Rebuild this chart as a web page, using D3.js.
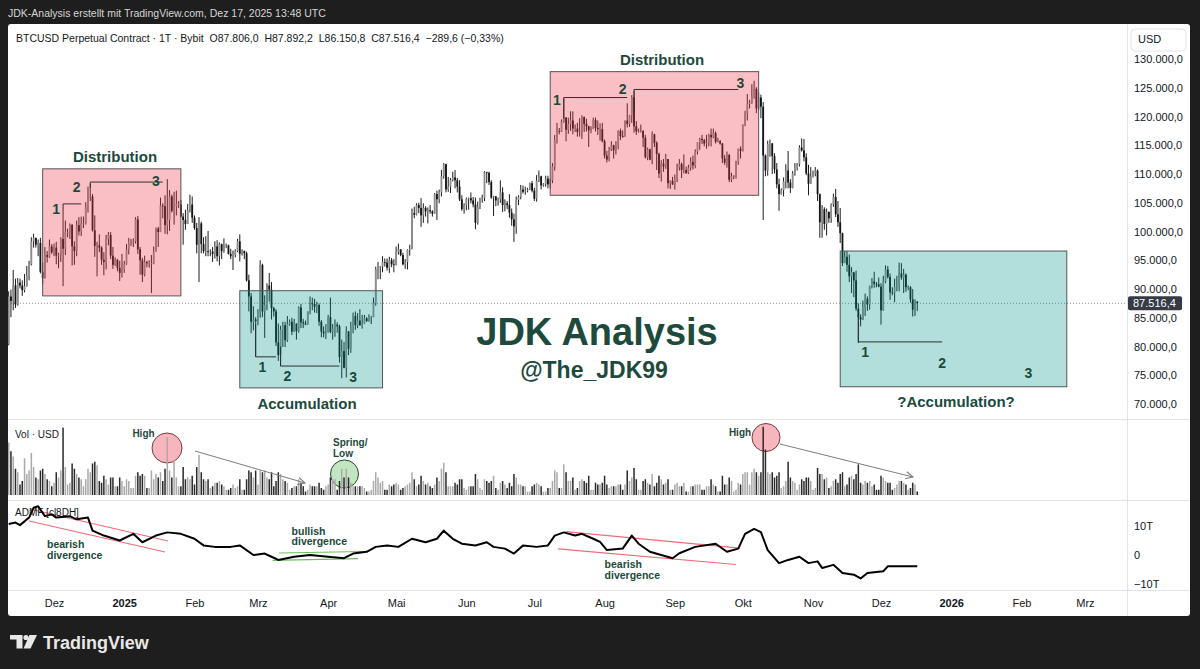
<!DOCTYPE html>
<html><head><meta charset="utf-8">
<script src="https://d3js.org/d3.v7.min.js"></script>
<style>
html,body{margin:0;padding:0;background:#1e1e1e;overflow:hidden}
svg{display:block;font-family:"Liberation Sans",Arial,sans-serif}
</style></head><body>
<svg id="chart" width="1200" height="669"></svg>
<script>
// ---------------- DATA ----------------
// Daily BTCUSD perpetual candles from 2024-11-11. Row = [high, low, close, volume]
// prices in thousand USD, volume in billion USD; open = previous close (24/7 market)
const startDate = [2024, 10, 11];
const firstOpen = 80.4;
const nov24 = [[89.6,80.2,88.7,3.0],[89.9,85.1,87.9,2.5],[93.3,86.3,90.6,2.2],[91.8,86.7,87.3,1.5],[91.9,87.1,91.1,1.3],[91.8,90.1,90.6,0.6],[91.5,88.8,89.8,0.8],[92.6,89.4,90.5,2.1],[94.0,90.4,92.3,1.2],[94.9,91.5,94.3,1.4],[99.0,94.1,98.3,2.4],[99.6,97.2,98.9,1.6],[98.9,97.2,97.7,1.0],[98.6,95.7,98.0,0.9],[98.9,92.7,93.0,1.4],[94.6,90.8,91.9,1.5],[97.3,91.8,95.9,1.2],[96.6,94.6,95.6,0.9],[98.6,95.4,97.4,0.8],[97.8,96.1,96.4,0.5]];
const dec24 = [[97.9,95.7,97.2,0.7],[98.2,94.3,95.8,1.3],[96.3,93.6,96.0,1.0],[99.0,94.7,98.7,1.4],[103.7,90.5,97.0,3.85],[101.9,95.9,99.9,1.6],[100.5,99.0,99.9,0.6],[101.4,98.7,101.2,0.7],[101.2,94.1,97.4,1.8],[98.3,94.2,96.6,1.5],[101.9,95.7,101.1,1.2],[102.5,99.3,100.0,1.0],[102.6,99.2,101.4,0.9],[102.6,100.6,101.4,0.5],[105.1,101.2,104.3,0.9],[107.8,103.3,106.1,1.5],[108.3,105.3,106.1,1.3],[106.5,100.0,100.2,1.8],[102.8,95.6,97.5,1.9],[98.2,92.2,97.6,1.7],[99.5,96.4,97.2,0.8],[97.4,94.2,95.1,0.7],[96.4,92.4,94.7,1.1],[99.4,93.4,98.7,0.9],[99.9,97.6,99.4,0.6],[99.9,95.2,95.8,1.0],[97.3,93.5,94.2,1.0],[95.5,94.0,95.1,0.5],[95.2,93.1,93.7,0.5],[94.9,91.4,92.8,1.0],[96.1,92.0,93.4,0.8]];
const jan25 = [[94.9,92.8,94.4,0.5],[97.8,94.2,96.9,0.9],[98.9,96.0,98.1,0.8],[98.7,97.5,98.2,0.4],[98.8,97.3,98.3,0.4],[102.5,97.9,102.1,1.1],[102.7,96.1,96.9,1.3],[97.3,92.5,95.0,1.1],[95.4,91.2,92.5,1.2],[95.8,92.2,94.7,1.1],[94.9,93.8,94.5,0.4],[95.0,93.7,94.5,0.4],[95.9,89.3,94.5,1.4],[97.4,94.3,96.5,0.9],[100.7,96.5,100.5,1.2],[100.8,97.3,99.9,1.0],[105.9,99.9,104.5,1.3],[104.9,102.3,104.4,0.8],[106.3,99.6,101.1,1.5],[109.1,99.5,102.0,3.3],[107.2,100.1,106.1,1.4],[106.4,103.3,103.6,1.0],[106.9,101.2,104.4,2.0],[107.1,102.8,104.7,1.0],[105.3,104.1,104.7,0.5],[105.5,102.5,102.6,0.5],[103.2,97.7,102.0,1.6],[103.8,100.3,101.3,0.9],[104.8,101.3,103.7,1.0],[106.4,103.3,104.7,0.9],[106.1,101.5,102.4,1.1]];
const feb25 = [[102.8,100.3,100.6,0.6],[101.5,96.2,97.7,1.6],[102.5,91.2,101.4,2.3],[101.7,96.2,97.8,1.3],[99.0,96.2,96.6,0.9],[99.2,95.7,96.6,0.8],[100.1,95.7,96.5,0.9],[96.9,95.7,96.5,0.4],[97.3,94.7,96.1,0.5],[98.3,95.3,97.4,0.7],[98.5,94.8,95.7,0.7],[98.1,94.1,97.8,0.8],[97.9,95.2,96.6,0.6],[98.8,96.3,97.5,0.5],[97.9,97.1,97.6,0.3],[97.7,96.0,96.1,0.3],[97.0,95.2,95.7,0.4],[96.7,93.3,95.9,0.6],[96.9,95.5,96.6,0.4],[98.7,96.4,98.3,0.5],[99.5,94.8,96.1,0.9],[96.9,95.8,96.6,0.3],[96.7,95.2,96.2,0.3],[96.5,91.3,91.5,0.9],[92.5,86.1,88.7,1.4],[89.3,82.3,84.3,1.3],[87.0,82.8,84.7,1.0],[85.1,78.2,84.4,1.4]];
const mar25 = [[86.5,83.7,86.0,0.6],[95.0,85.0,94.2,1.4],[94.4,85.1,86.1,1.3],[88.9,81.5,87.2,1.4],[91.0,86.3,90.6,1.0],[92.8,87.8,89.9,0.9],[91.2,84.7,86.7,1.3],[86.9,85.2,86.1,0.5],[86.5,80.1,80.7,0.8],[84.0,77.5,78.5,1.3],[83.6,76.6,82.9,1.2],[84.3,79.9,83.7,0.9],[84.3,79.9,81.1,0.8],[85.3,80.8,83.9,0.7],[84.7,83.6,84.3,0.3],[85.0,82.0,82.6,0.4],[84.8,82.5,84.0,0.5],[84.0,81.2,82.7,0.5],[87.0,82.4,86.8,0.9],[87.4,83.2,84.2,0.7],[84.8,83.2,84.0,0.5],[84.5,83.7,83.8,0.2],[86.1,83.8,86.1,0.3],[88.7,85.6,87.5,0.6],[88.5,86.3,87.4,0.5],[88.3,85.9,86.9,0.5],[87.8,85.8,87.2,0.5],[87.5,83.6,84.3,0.7],[84.6,81.6,82.6,0.4],[83.5,81.6,82.3,0.3],[83.9,81.3,82.5,0.5]];
const apr25 = [[85.5,82.4,85.1,0.6],[88.5,82.3,82.5,1.0],[83.9,81.2,83.1,0.9],[84.7,81.7,83.8,0.9],[84.2,82.4,83.5,0.3],[83.8,77.2,78.2,0.8],[81.2,74.5,79.2,1.5],[80.8,76.2,76.3,1.0],[83.5,74.6,82.6,1.5],[82.7,78.5,79.6,1.0],[84.3,78.9,83.4,0.7],[85.9,82.3,85.3,0.5],[86.1,82.9,83.7,0.5],[85.8,83.2,84.5,0.5],[86.5,83.6,83.7,0.5],[85.5,83.1,84.0,0.5],[85.5,83.9,84.9,0.4],[85.1,84.3,84.4,0.2],[85.6,84.3,85.1,0.2],[85.3,83.9,85.1,0.3],[88.5,85.1,87.5,0.8],[93.9,87.1,93.4,1.3],[94.7,91.7,93.7,1.0],[94.0,91.7,93.9,0.7],[95.7,92.9,94.7,0.8],[95.3,93.9,94.6,0.3],[95.3,93.2,93.7,0.3],[95.6,92.8,95.0,0.6],[95.4,93.8,94.3,0.5],[95.2,92.9,94.2,0.6]];
const may25 = [[97.4,94.1,96.5,0.7],[97.9,96.0,96.9,0.6],[96.9,95.7,95.9,0.3],[96.3,94.1,94.3,0.4],[95.2,93.5,94.7,0.5],[96.9,93.4,96.8,0.6],[97.7,95.8,97.0,0.7],[104.0,96.9,103.2,1.3],[104.3,102.3,102.9,0.9],[104.9,102.8,104.6,0.5],[105.0,103.2,104.1,0.6],[105.8,100.8,102.8,1.1],[104.9,101.5,104.1,0.8],[104.4,102.6,103.5,0.6],[104.2,101.4,103.7,0.7],[104.6,103.1,103.5,0.5],[103.7,102.6,103.1,0.4],[106.7,103.1,106.5,0.6],[107.1,102.0,105.6,1.0],[107.3,104.9,106.8,0.8],[110.7,106.1,109.6,1.5],[111.9,109.2,111.7,1.85],[111.8,106.8,107.3,1.3],[109.5,106.9,107.8,0.5],[109.3,106.7,109.0,0.5],[110.4,108.7,109.4,0.5],[110.7,107.5,108.9,0.7],[109.3,106.8,107.8,0.6],[108.9,105.3,105.6,0.9],[106.3,103.6,103.9,0.9],[104.9,103.1,104.6,0.4]];
const jun25 = [[105.9,103.7,105.7,0.3],[105.9,103.8,105.8,0.5],[106.8,104.9,105.4,0.5],[106.0,104.2,104.7,0.5],[105.9,100.4,101.5,1.2],[105.2,101.2,104.3,0.9],[105.9,103.9,105.6,0.4],[106.4,105.0,105.8,0.3],[110.5,105.3,110.3,0.9],[110.4,108.4,110.2,0.8],[110.4,108.1,108.6,0.7],[108.9,105.7,105.9,0.8],[106.2,102.7,106.1,1.1],[106.2,104.4,105.4,0.4],[105.9,104.5,105.6,0.3],[108.9,105.0,106.8,0.7],[107.7,103.4,104.6,0.8],[105.6,103.5,104.9,0.6],[105.3,103.9,104.6,0.4],[106.5,102.4,103.3,0.7],[104.0,101.0,102.1,0.5],[103.1,98.2,100.9,1.2],[106.1,99.6,105.5,1.0],[106.3,104.6,106.0,0.6],[108.1,105.6,107.3,0.6],[108.0,106.6,106.9,0.5],[107.8,106.4,107.1,0.5],[107.6,106.8,107.3,0.2],[108.5,107.2,108.4,0.2],[108.8,106.8,107.1,0.5]];
const jul25 = [[107.6,105.3,105.7,0.6],[109.8,105.2,108.8,0.7],[110.6,108.6,109.6,0.6],[109.7,107.3,108.0,0.5],[108.4,107.8,108.2,0.2],[109.7,107.8,109.2,0.2],[109.7,107.5,108.2,0.4],[109.2,107.5,108.9,0.4],[111.9,108.4,111.3,0.8],[116.8,110.6,115.9,1.4],[118.9,115.3,117.5,1.3],[118.0,116.9,117.4,0.4],[119.5,117.3,119.1,0.4],[123.2,118.9,119.8,1.75],[119.9,115.7,117.7,1.3],[119.8,117.0,118.7,0.8],[120.9,117.5,119.3,0.8],[120.9,116.9,117.9,1.0],[118.6,117.3,117.9,0.3],[118.9,116.5,117.3,0.4],[119.7,116.5,117.4,0.8],[120.2,116.1,119.9,0.9],[120.0,117.3,118.7,0.8],[119.6,117.4,118.3,0.7],[118.4,114.7,117.6,1.1],[118.3,117.1,117.9,0.3],[119.8,117.8,119.4,0.3],[119.8,117.4,118.0,0.7],[119.3,116.8,117.8,0.6],[118.8,115.8,117.8,0.6],[118.9,115.5,115.7,0.7]];
const aug25 = [[116.0,112.7,113.2,1.1],[114.0,112.0,112.5,0.6],[114.7,112.2,114.2,0.4],[115.7,114.0,115.0,0.5],[115.1,112.7,114.1,0.5],[115.7,113.4,115.0,0.5],[117.6,114.3,117.5,0.6],[117.9,115.9,116.6,0.6],[117.6,116.3,116.5,0.3],[119.3,116.5,119.3,0.6],[122.3,118.1,118.7,1.4],[120.3,118.2,120.2,0.8],[123.7,118.9,123.3,1.0],[124.5,117.2,118.3,1.55],[119.2,116.8,117.4,0.9],[117.9,117.2,117.5,0.3],[118.6,117.2,117.5,0.3],[117.6,114.7,116.3,0.8],[116.8,112.7,112.9,0.9],[114.6,112.4,114.3,0.7],[114.4,112.4,112.5,0.6],[117.4,111.7,116.9,1.2],[117.0,114.7,115.4,0.5],[115.7,110.7,113.5,0.7],[113.7,109.3,110.1,1.1],[112.4,108.7,111.8,0.9],[112.6,110.4,111.3,0.6],[113.5,110.9,112.6,0.7],[112.6,107.5,108.4,0.9],[108.9,107.4,108.8,0.3],[109.5,108.1,108.2,0.3]];
const sep25 = [[109.9,107.3,109.2,0.6],[111.8,108.6,111.2,0.7],[112.6,110.6,111.7,0.5],[112.0,109.3,110.7,0.5],[113.4,110.1,110.7,0.7],[111.3,110.0,110.2,0.2],[111.6,110.0,111.1,0.2],[112.9,110.6,112.1,0.5],[113.2,110.8,111.5,0.5],[114.3,111.0,113.9,0.6],[115.5,113.4,115.5,0.6],[116.3,114.2,116.1,0.6],[116.8,115.2,115.9,0.3],[116.1,114.8,115.3,0.3],[116.8,114.4,115.4,0.5],[117.0,114.8,116.8,0.5],[117.9,114.8,116.4,0.9],[117.9,116.2,117.1,0.6],[117.4,115.3,115.6,0.5],[116.3,115.5,115.7,0.2],[115.9,115.1,115.3,0.2],[115.4,111.9,112.7,1.1],[113.3,111.6,112.0,0.6],[113.9,111.1,113.3,0.6],[113.5,108.6,109.0,1.0],[110.2,108.6,109.6,0.8],[109.8,109.1,109.7,0.2],[112.3,109.2,112.1,0.3],[114.4,111.6,114.4,0.7],[114.8,112.7,114.0,0.6]];
const oct25 = [[118.6,113.9,118.6,1.2],[121.0,118.3,120.6,1.3],[123.9,119.3,122.2,1.3],[122.9,121.4,122.4,0.6],[125.6,122.2,123.5,1.3],[126.2,123.1,124.8,1.5],[125.1,120.6,121.4,1.3],[124.2,121.1,123.3,1.1],[123.8,119.7,121.7,1.3],[122.5,102.0,113.2,3.9],[113.4,109.6,110.6,2.6],[115.8,109.7,115.2,1.3],[116.0,113.0,115.3,1.2],[115.4,110.0,113.1,1.3],[113.6,110.1,110.8,1.0],[111.9,107.5,108.2,1.1],[109.2,103.6,106.5,1.3],[107.5,106.4,107.2,0.4],[109.4,106.1,108.7,0.5],[111.7,107.5,110.6,0.8],[114.0,107.5,108.5,1.9],[109.1,106.7,107.6,1.0],[110.5,107.5,110.1,0.8],[111.9,109.7,111.0,0.7],[111.9,110.6,111.7,0.3],[115.0,111.3,114.6,0.6],[116.2,113.9,114.1,0.9],[116.1,112.2,112.9,0.8],[113.6,109.8,110.1,1.0],[111.6,106.3,108.3,1.0],[111.2,108.3,109.6,0.8]];
const nov25 = [[110.6,109.4,110.1,0.3],[111.2,109.6,110.6,0.4],[110.8,105.3,106.5,1.55],[106.6,98.9,101.6,1.2],[104.6,98.9,103.9,1.2],[104.2,100.3,101.3,0.9],[104.0,99.3,103.4,1.0],[103.5,101.5,102.3,0.4],[104.9,101.5,104.7,0.5],[106.6,104.3,106.0,0.8],[107.4,102.5,103.0,0.9],[105.3,100.8,101.6,0.7],[104.1,98.0,99.7,1.2],[99.8,94.0,94.5,1.3],[96.6,94.5,95.6,0.5],[96.6,93.0,94.2,0.6],[96.0,91.2,92.2,1.0],[93.8,89.3,92.9,1.1],[93.0,88.6,91.5,0.9],[93.2,86.2,86.6,1.2],[87.5,80.6,85.1,1.75],[85.6,83.5,84.7,0.7],[88.0,84.6,86.8,0.6],[89.2,85.3,88.3,0.8],[88.7,86.2,87.3,0.7],[90.6,86.4,90.5,0.8],[91.9,90.1,91.3,0.5],[93.0,90.2,90.9,0.6],[91.2,90.3,90.8,0.3],[92.0,90.3,90.4,0.3]];
const dec25 = [[91.0,83.8,86.3,1.1],[92.3,86.2,91.3,1.0],[94.1,91.0,93.4,0.8],[94.0,91.8,92.1,0.7],[92.7,88.1,89.4,0.7],[90.3,88.9,89.3,0.3],[91.8,87.7,90.4,0.4],[92.3,89.6,90.6,0.6],[94.6,89.6,92.7,0.8],[94.5,91.6,92.0,0.8],[93.5,89.3,92.5,0.7],[92.7,89.5,90.3,0.6],[90.6,89.8,90.3,0.3],[90.5,87.6,88.2,0.4],[90.0,85.2,86.4,0.7],[88.2,85.3,87.806,0.6],[87.8922,86.1508,87.5164,0.2]];

// ADMF indicator (trillions), day offset from start date
const adlDay = [0,3,5,9,11,13,16,19,21,27,30,35,37,42,49,55,59,65,70,76,82,86,91,98,102,108,113,116,119,126,133,141,148,152,158,162,167,172,178,184,189,192,196,200,206,211,214,219,223,227,233,238,241,245,250,253,258,261,264,271,275,278,283,288,293,296,303,312,317,322,325,329,332,335,340,344,349,353,357,359,364,368,373,376,379,386,388,394,401];
const adlVal = [10.7,11.2,10.3,12.9,16.3,16.8,13.4,14.0,12.9,13.4,12.3,12.9,8.4,6.7,5.0,7.3,4.4,6.7,7.8,7.3,5.6,3.3,2.8,2.8,3.3,0.0,0.5,-0.6,-1.7,-0.6,0.0,-0.6,-1.1,0.5,1.1,2.8,3.3,2.8,5.6,4.4,5.6,8.4,5.6,3.9,3.3,4.4,2.8,2.2,0.5,3.3,2.8,3.3,6.7,7.8,6.7,7.3,5.6,4.5,1.7,2.2,6.7,3.9,1.1,0.0,-1.1,0.6,2.8,3.9,1.1,2.2,7.3,9.0,7.9,1.7,-2.8,-1.7,-0.6,-2.8,-2.2,-4.5,-3.4,-6.2,-6.8,-8.1,-6.2,-5.6,-3.9,-3.9,-3.9];

const priceTicks = [70,75,80,85,90,95,100,105,110,115,120,125,130];
const volTicks = [2,4];
const adlTicks = [-10,0,10];
const monthTicks = ["2024-12-01","2025-01-01","2025-02-01","2025-03-01","2025-04-01","2025-05-01","2025-06-01","2025-07-01","2025-08-01","2025-09-01","2025-10-01","2025-11-01","2025-12-01","2026-01-01","2026-02-01","2026-03-01"];
const monthLabels = ["Dez","2025","Feb","Mrz","Apr","Mai","Jun","Jul","Aug","Sep","Okt","Nov","Dez","2026","Feb","Mrz"];

// ---------------- CHART ----------------
const svg = d3.select("#chart");
const W = 1200, H = 669;
const CL = 8, CR = 1190, CT = 24, CB = 616, AX = 1127;
const P_B = 419.5, V_B = 500.5, A_B = 590.5;
const txt = "#131722", ann = "#1b4a3c";

svg.append("rect").attr("width", W).attr("height", H).attr("fill", "#1e1e1e");
svg.append("rect").attr("x", CL).attr("y", CT).attr("width", CR - CL).attr("height", CB - CT).attr("fill", "#ffffff").attr("rx", 3);

const parse = d3.timeParse("%Y-%m-%d");
const start = new Date(startDate[0], startDate[1], startDate[2]);
const rows = [].concat(nov24, dec24, jan25, feb25, mar25, apr25, may25, jun25, jul25, aug25, sep25, oct25, nov25, dec25);
let prev = firstOpen;
const candles = rows.map((r, i) => { const d = {date: d3.timeDay.offset(start, i), o: prev, h: r[0], l: r[1], c: r[2], v: r[3]}; prev = r[2]; return d; });
const adl = adlDay.map((d, i) => ({date: d3.timeDay.offset(start, d), v: adlVal[i]}));

const x = d3.scaleTime().domain([parse("2024-12-01"), parse("2025-12-01")]).range([54, 881]);
const yP = d3.scaleLinear().domain([70, 130]).range([404, 59]);
const yV = d3.scaleLinear().domain([0, 4]).range([495, 425]);
const yA = d3.scaleLinear().domain([-10, 10]).range([584, 526]);

const defs = svg.append("defs");
defs.append("clipPath").attr("id", "cp").append("rect").attr("x", CL).attr("y", CT).attr("width", AX - CL).attr("height", P_B - CT);
defs.append("clipPath").attr("id", "cv").append("rect").attr("x", CL).attr("y", P_B).attr("width", AX - CL).attr("height", V_B - P_B);
defs.append("clipPath").attr("id", "cva").append("rect").attr("x", AX).attr("y", P_B + 0.5).attr("width", CR - AX).attr("height", V_B - P_B);
defs.append("clipPath").attr("id", "ca").append("rect").attr("x", CL).attr("y", V_B).attr("width", AX - CL).attr("height", A_B - V_B);
defs.append("marker").attr("id", "arr").attr("viewBox", "0 0 10 10").attr("refX", 9).attr("refY", 5)
  .attr("markerWidth", 9).attr("markerHeight", 9).attr("markerUnits", "userSpaceOnUse").attr("orient", "auto")
  .append("path").attr("d", "M1,1 L9,5 L1,9").attr("fill", "none").attr("stroke", "#7d7d7d").attr("stroke-width", 1.2);

// separators
const sep = svg.append("g").attr("stroke", "#e0e3eb").attr("stroke-width", 1);
[P_B, V_B, A_B].forEach(y => sep.append("line").attr("x1", CL).attr("x2", CR).attr("y1", y).attr("y2", y));
sep.append("line").attr("x1", AX + 0.5).attr("x2", AX + 0.5).attr("y1", CT).attr("y2", CB);

// ---- price panel ----
const gP = svg.append("g").attr("clip-path", "url(#cp)");
gP.append("line").attr("x1", CL).attr("x2", AX).attr("y1", yP(87.5164)).attr("y2", yP(87.5164))
  .attr("stroke", "#8a8d96").attr("stroke-dasharray", "1,2");
gP.selectAll("line.wick").data(candles).join("line").attr("class", "wick")
  .attr("x1", d => x(d.date)).attr("x2", d => x(d.date))
  .attr("y1", d => yP(d.h)).attr("y2", d => yP(d.l))
  .attr("stroke", "#1c1c1c").attr("stroke-width", 1);
gP.selectAll("rect.body").data(candles).join("rect").attr("class", "body")
  .attr("x", d => x(d.date) - 0.9).attr("width", 1.8)
  .attr("y", d => yP(Math.max(d.o, d.c)))
  .attr("height", d => Math.max(0.8, Math.abs(yP(d.o) - yP(d.c))))
  .attr("fill", d => d.c >= d.o ? "#8c8c8c" : "#141414");

// boxes
const boxes = [
  {t: "2024-11-26", b: "2025-01-26", hi: 110.9, lo: 88.8, fill: "rgba(240,60,80,0.33)"},
  {t: "2025-02-21", b: "2025-04-25", hi: 89.7, lo: 72.8, fill: "rgba(0,150,136,0.30)"},
  {t: "2025-07-08", b: "2025-10-08", hi: 127.8, lo: 106.3, fill: "rgba(240,60,80,0.33)"},
  {t: "2025-11-13", b: "2026-02-21", hi: 96.6, lo: 73.0, fill: "rgba(0,150,136,0.30)"}
];
gP.selectAll("rect.box").data(boxes).join("rect").attr("class", "box")
  .attr("x", d => x(parse(d.t))).attr("width", d => x(parse(d.b)) - x(parse(d.t)))
  .attr("y", d => yP(d.hi)).attr("height", d => yP(d.lo) - yP(d.hi))
  .attr("fill", d => d.fill).attr("stroke", "#555").attr("stroke-width", 1);

// brackets
const brackets = [
  [["2024-12-05", 103.7], ["2024-12-05", 104.8], ["2024-12-13", 104.8]],
  [["2024-12-17", 107.6], ["2024-12-17", 108.6], ["2025-01-18", 108.6]],
  [["2025-02-28", 83.9], ["2025-02-28", 78.2], ["2025-03-09", 78.2]],
  [["2025-03-11", 80.0], ["2025-03-11", 76.6], ["2025-04-06", 76.6]],
  [["2025-07-14", 119.6], ["2025-07-14", 123.3], ["2025-08-11", 123.3]],
  [["2025-08-14", 121.0], ["2025-08-14", 124.7], ["2025-09-29", 124.7]],
  [["2025-11-21", 85.5], ["2025-11-21", 80.8], ["2025-12-28", 80.8]]
];
const bl = d3.line().x(p => x(parse(p[0]))).y(p => yP(p[1]));
gP.selectAll("path.br").data(brackets).join("path").attr("class", "br")
  .attr("d", bl).attr("fill", "none").attr("stroke", "#2f2f2f").attr("stroke-width", 1);

// numbers
const nums = [
  ["1", "2024-12-02", 103.9], ["2", "2024-12-11", 107.7], ["3", "2025-01-15", 108.8],
  ["1", "2025-03-03", 76.4], ["2", "2025-03-14", 74.9], ["3", "2025-04-12", 74.7],
  ["1", "2025-07-11", 122.9], ["2", "2025-08-09", 124.8], ["3", "2025-09-30", 125.8],
  ["1", "2025-11-24", 79.0], ["2", "2025-12-28", 77.1], ["3", "2026-02-04", 75.4]
];
gP.selectAll("text.num").data(nums).join("text").attr("class", "num")
  .attr("x", d => x(parse(d[1]))).attr("y", d => yP(d[2]) + 5)
  .attr("text-anchor", "middle").attr("font-size", 14).attr("font-weight", "bold").attr("fill", ann).text(d => d[0]);

const labels = [
  ["Distribution", 115, 162], ["Accumulation", 307, 409], ["Distribution", 662, 65], ["?Accumulation?", 956, 407]
];
gP.selectAll("text.lab").data(labels).join("text").attr("class", "lab")
  .attr("x", d => d[1]).attr("y", d => d[2]).attr("text-anchor", "middle")
  .attr("font-size", 15).attr("font-weight", "bold").attr("fill", ann).text(d => d[0]);

gP.append("text").attr("x", 597).attr("y", 345).attr("text-anchor", "middle").attr("font-size", 38)
  .attr("font-weight", "bold").attr("fill", "#1d4a3c").text("JDK Analysis");
gP.append("text").attr("x", 594).attr("y", 378).attr("text-anchor", "middle").attr("font-size", 23)
  .attr("font-weight", "bold").attr("fill", "#1d4a3c").text("@The_JDK99");

// price axis
const fl = d3.formatLocale({decimal: ",", thousands: ".", grouping: [3], currency: ["", ""]});
const fP = fl.format(",.1f");
const axP = svg.append("g").attr("transform", `translate(${AX},0)`)
  .call(d3.axisRight(yP).tickValues(priceTicks).tickSize(0).tickPadding(7).tickFormat(d => fP(d * 1000)));
axP.select(".domain").remove();
axP.selectAll("text").attr("font-size", 11).attr("fill", txt).attr("font-family", "Liberation Sans, Arial");
svg.append("rect").attr("x", 1131).attr("y", 29).attr("width", 55).attr("height", 22).attr("rx", 4)
  .attr("fill", "#fff").attr("stroke", "#e0e3eb");
svg.append("text").attr("x", 1138).attr("y", 43).attr("font-size", 11).attr("fill", txt).text("USD");
const last = candles[candles.length - 1];
svg.append("rect").attr("x", 1128).attr("y", yP(last.c) - 7).attr("width", 54).attr("height", 14).attr("rx", 2).attr("fill", "#363a45");
svg.append("text").attr("x", 1133).attr("y", yP(last.c) + 4).attr("font-size", 11).attr("fill", "#fff").text(fP(last.c * 1000));

// ---- volume panel ----
const gV = svg.append("g").attr("clip-path", "url(#cv)");
gV.append("circle").attr("cx", 167).attr("cy", 448).attr("r", 15).attr("fill", "rgba(240,110,125,0.5)").attr("stroke", "#7a3b3b");
gV.append("circle").attr("cx", 766).attr("cy", 437.5).attr("r", 14).attr("fill", "rgba(240,110,125,0.5)").attr("stroke", "#7a3b3b");
gV.append("circle").attr("cx", 344.5).attr("cy", 474).attr("r", 14).attr("fill", "rgba(120,200,120,0.45)").attr("stroke", "#2c4a2c");
gV.selectAll("rect.vb").data(candles).join("rect").attr("class", "vb")
  .attr("x", d => x(d.date) - 0.75).attr("width", 1.5)
  .attr("y", d => yV(d.v)).attr("height", d => yV(0) - yV(d.v))
  .attr("fill", d => d.c >= d.o ? "#a9a9a9" : "#2a2a2a");
gV.append("line").attr("x1", 195).attr("y1", 451).attr("x2", 305).attr("y2", 483).attr("stroke", "#7d7d7d").attr("marker-end", "url(#arr)");
gV.append("line").attr("x1", 780).attr("y1", 444).attr("x2", 913).attr("y2", 477).attr("stroke", "#7d7d7d").attr("marker-end", "url(#arr)");
const vtx = [["High", 143.5, 436.5, "middle"], ["Spring/", 333, 446, "start"], ["Low", 333, 457, "start"], ["High", 740, 435.5, "middle"]];
gV.selectAll("text.va").data(vtx).join("text").attr("class", "va").attr("x", d => d[1]).attr("y", d => d[2])
  .attr("text-anchor", d => d[3]).attr("font-size", 10).attr("font-weight", "bold").attr("fill", ann).text(d => d[0]);
svg.append("text").attr("x", 15).attr("y", 438).attr("font-size", 10).attr("fill", txt).text("Vol · USD");
const axV = svg.append("g").attr("transform", `translate(${AX},0)`).attr("clip-path", "url(#cva)")
  .call(d3.axisRight(yV).tickValues(volTicks).tickSize(0).tickPadding(8).tickFormat(d => d + " B"));
axV.select(".domain").remove();
axV.selectAll("text").attr("font-size", 11).attr("fill", txt).attr("font-family", "Liberation Sans, Arial");

// ---- ADMF panel ----
const gA = svg.append("g").attr("clip-path", "url(#ca)");
const divs = [
  {p: [[34, 510], [168, 541]], c: "#ef6a7a"}, {p: [[29, 521], [165, 552]], c: "#ef6a7a"},
  {p: [[279, 553], [363, 551.5]], c: "#6cbf5c"}, {p: [[272.5, 560.3], [358, 558.6]], c: "#6cbf5c"},
  {p: [[565.6, 531.6], [739.7, 548.2]], c: "#ef6a7a"}, {p: [[558, 548.9], [736, 564.5]], c: "#ef6a7a"}
];
gA.selectAll("line.dv").data(divs).join("line").attr("class", "dv")
  .attr("x1", d => d.p[0][0]).attr("y1", d => d.p[0][1]).attr("x2", d => d.p[1][0]).attr("y2", d => d.p[1][1])
  .attr("stroke", d => d.c).attr("stroke-width", 1.2);
gA.append("path").datum(adl).attr("d", d3.line().x(d => x(d.date)).y(d => yA(d.v)))
  .attr("fill", "none").attr("stroke", "#000").attr("stroke-width", 2).attr("stroke-linejoin", "round");
svg.append("text").attr("x", 15).attr("y", 516).attr("font-size", 10).attr("fill", txt).text("ADMF [cl8DH]");
const atx = [["bearish", 47, 547.5], ["divergence", 47, 558.5], ["bullish", 291.6, 534.5], ["divergence", 291.6, 545],
  ["bearish", 604.6, 568], ["divergence", 604.6, 579]];
gA.selectAll("text.aa").data(atx).join("text").attr("class", "aa").attr("x", d => d[1]).attr("y", d => d[2])
  .attr("font-size", 10.5).attr("font-weight", "bold").attr("fill", ann).text(d => d[0]);
const axA = svg.append("g").attr("transform", `translate(${AX},0)`)
  .call(d3.axisRight(yA).tickValues(adlTicks).tickSize(0).tickPadding(7).tickFormat(d => d === 0 ? "0" : (d < 0 ? "\u221210T" : "10T")));
axA.select(".domain").remove();
axA.selectAll("text").attr("font-size", 11).attr("fill", txt).attr("font-family", "Liberation Sans, Arial");

// ---- time axis ----
const axX = svg.append("g").attr("transform", `translate(0,${A_B})`)
  .call(d3.axisBottom(x).tickValues(monthTicks.map(parse)).tickSize(0).tickPadding(9).tickFormat((d, i) => monthLabels[i]));
axX.select(".domain").remove();
axX.selectAll("text").attr("font-size", 11).attr("fill", txt).attr("font-family", "Liberation Sans, Arial")
  .attr("font-weight", (d, i) => /^\d+$/.test(monthLabels[i]) ? "bold" : "normal");

// ---- header & titles ----
svg.append("text").attr("x", 8).attr("y", 17).attr("font-size", 10.5).attr("fill", "#d6d6d6")
  .text("JDK-Analysis erstellt mit TradingView.com, Dez 17, 2025 13:48 UTC");
const chg = last.c - last.o;
const fS = fl.format(",.1f"), fPct = fl.format(".2f");
svg.append("text").attr("x", 16).attr("y", 42).attr("font-size", 10.5).attr("fill", txt).attr("xml:space", "preserve")
  .text(`BTCUSD Perpetual Contract · 1T · Bybit  O${fP(last.o * 1000)}  H${fP(last.h * 1000)}  L${fP(last.l * 1000)}  C${fP(last.c * 1000)}  ${fS(chg * 1000)} (${fPct(chg / last.o * 100)}%)`);

// ---- footer logo ----
const lg = svg.append("g").attr("fill", "#e8e8e8");
lg.append("path").attr("d", "M10,635 H22.5 V648.5 H16.5 V639.5 H10 Z");
lg.append("circle").attr("cx", 26).attr("cy", 637.5).attr("r", 2.6);
lg.append("path").attr("d", "M29.5,635 H37 L30.5,648.5 H23.5 Z");
lg.append("text").attr("x", 43).attr("y", 648.5).attr("font-size", 18).attr("font-weight", "bold").text("TradingView");
</script></body></html>
